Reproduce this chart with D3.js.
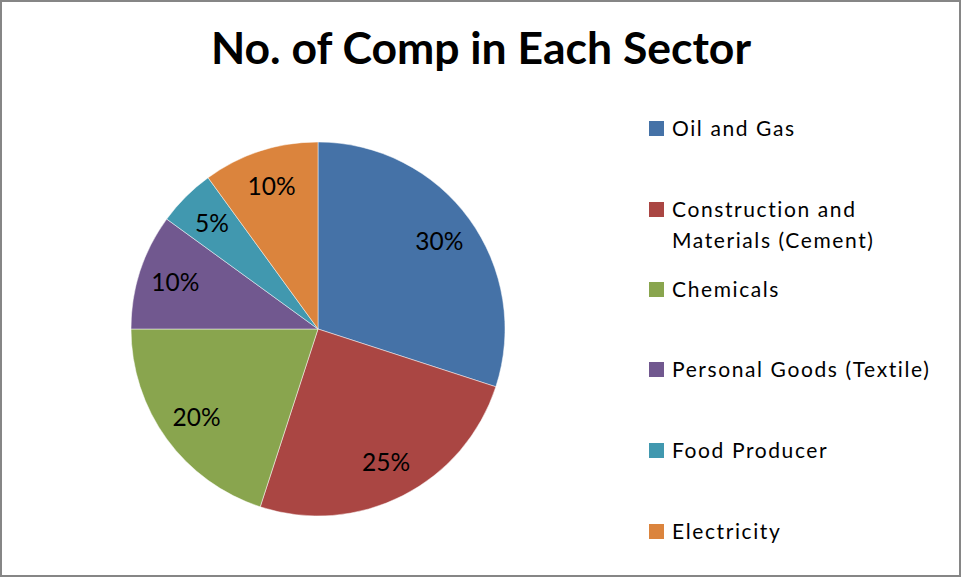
<!DOCTYPE html>
<html>
<head>
<meta charset="utf-8">
<script src="https://cdn.jsdelivr.net/npm/d3@7"></script>
<style>
  body { margin: 0; background: #fff; }
  svg { display: block; }
</style>
</head>
<body>
<div id="chart"></div>
<script>
// chart data
var sectors = ['Oil and Gas', 'Construction and Materials (Cement)', 'Chemicals',
  'Personal Goods (Textile)', 'Food Producer', 'Electricity'];
var legendLines = [['Oil and Gas'], ['Construction and', 'Materials (Cement)'], ['Chemicals'],
  ['Personal Goods (Textile)'], ['Food Producer'], ['Electricity']];
var shares = [30, 25, 20, 10, 5, 10];
var colors = ['#4572A7', '#AA4643', '#89A54E', '#71588F', '#4198AF', '#DB843D'];

var W = 961, H = 577;
var FONT = 'Lato, "Open Sans", sans-serif';

var svg = d3.select('#chart').append('svg')
  .attr('width', W)
  .attr('height', H);

// outer frame
svg.append('rect')
  .attr('x', 1).attr('y', 1)
  .attr('width', W - 2).attr('height', H - 2)
  .attr('fill', '#fff')
  .attr('stroke', '#868686')
  .attr('stroke-width', 2);

// title
svg.append('text')
  .attr('x', 481).attr('y', 64)
  .attr('text-anchor', 'middle')
  .style('font-family', FONT)
  .style('font-weight', 'bold')
  .style('font-size', '44.5px')
  .attr('fill', '#000')
  .text('No. of Comp in Each Sector');

// pie
var cx = 318, cy = 329, R = 187;
var pie = d3.pie().sort(null).value(function(d) { return d; });
var arc = d3.arc().innerRadius(0).outerRadius(R);
var labelArc = d3.arc().innerRadius(150).outerRadius(150);
var arcs = pie(shares);

var g = svg.append('g').attr('transform', 'translate(' + cx + ',' + cy + ')');

g.selectAll('path.slice')
  .data(arcs)
  .enter()
  .append('path')
  .attr('class', 'slice')
  .attr('d', arc)
  .attr('fill', function(d, i) { return colors[i]; })
  .attr('stroke', '#fff')
  .attr('stroke-opacity', 0.6)
  .attr('stroke-width', 0.8);

g.selectAll('text.lbl')
  .data(arcs)
  .enter()
  .append('text')
  .attr('class', 'lbl')
  .attr('transform', function(d) { return 'translate(' + labelArc.centroid(d) + ')'; })
  .attr('text-anchor', 'middle')
  .attr('dy', '0.36em')
  .style('font-family', FONT)
  .style('font-size', '24.5px')
  .attr('fill', '#000')
  .text(function(d) { return d.data + '%'; });

// legend
var legendY = [136, 217, 297, 377, 458, 539];
var leg = svg.append('g');
var items = leg.selectAll('g.item')
  .data(sectors)
  .enter()
  .append('g')
  .attr('class', 'item')
  .attr('transform', function(d, i) { return 'translate(649,' + legendY[i] + ')'; });

items.append('rect')
  .attr('x', 0).attr('y', -15)
  .attr('width', 15).attr('height', 15)
  .attr('fill', function(d, i) { return colors[i]; });

items.append('text')
  .attr('x', 23).attr('y', 0)
  .style('font-family', FONT)
  .style('font-size', '21px')
  .style('letter-spacing', '1.6px')
  .attr('fill', '#000')
  .each(function(d, i) {
    var t = d3.select(this);
    legendLines[i].forEach(function(line, j) {
      t.append('tspan').attr('x', 23).attr('y', j * 31).text(line);
    });
  });
</script>
</body>
</html>
